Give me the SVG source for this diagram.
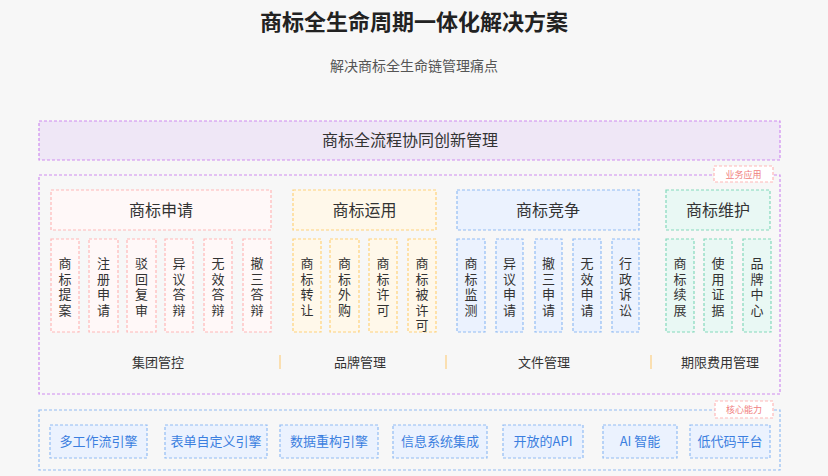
<svg xmlns="http://www.w3.org/2000/svg" width="828" height="476" viewBox="0 0 828 476">
<style>
text{font-family:"Noto Sans CJK SC","Noto Sans",sans-serif;fill:#333}
.d{stroke-dasharray:3 2;stroke-width:1.2}
.pk{fill:#fff8f8;stroke:#ffb8b8}
.yl{fill:#fff8ea;stroke:#ffd27a}
.bl{fill:#ebf2fe;stroke:#92bcf4}
.gr{fill:#e9f8f4;stroke:#84d9bb}
.h{font-size:16px;text-anchor:middle}
.v{font-size:13px;text-anchor:middle}
.c{font-size:13px;text-anchor:middle;fill:#3b7fe0}
.f{font-size:13px;text-anchor:middle}
.tag{font-size:9px;text-anchor:middle;fill:#f08080}
</style>
<rect width="828" height="476" fill="#f7f7f7"/>
<text x="414" y="30" style="font-size:22px;font-weight:bold;text-anchor:middle;fill:#222">商标全生命周期一体化解决方案</text>
<text x="414" y="71" style="font-size:14px;text-anchor:middle;fill:#555">解决商标全生命链管理痛点</text>
<g id="banner"><rect class="d" x="39" y="121" width="741" height="39" fill="#efe7f6" stroke="#cf8cf0"/><text x="410" y="146" style="font-size:16px;text-anchor:middle">商标全流程协同创新管理</text></g>
<g id="business">
<rect class="d" x="39" y="175" width="741" height="219" fill="none" stroke="#cf8cf0"/>
<rect class="d" x="714" y="166" width="59" height="16" fill="#fff" stroke="#ffb8b8"/><text class="tag" x="743.5" y="177.5">业务应用</text>
</g>
<g id="apply">
<rect class="d pk" x="51" y="190" width="220" height="40"/><text class="h" x="161" y="216">商标申请</text>
<rect class="d pk" x="51" y="239" width="28" height="93"/><text class="v" x="65" y="268"><tspan x="65">商</tspan><tspan x="65" dy="15.5">标</tspan><tspan x="65" dy="15.5">提</tspan><tspan x="65" dy="15.5">案</tspan></text>
<rect class="d pk" x="89" y="239" width="29" height="93"/><text class="v" x="103.5" y="268"><tspan x="103.5">注</tspan><tspan x="103.5" dy="15.5">册</tspan><tspan x="103.5" dy="15.5">申</tspan><tspan x="103.5" dy="15.5">请</tspan></text>
<rect class="d pk" x="127" y="239" width="29" height="93"/><text class="v" x="141.5" y="268"><tspan x="141.5">驳</tspan><tspan x="141.5" dy="15.5">回</tspan><tspan x="141.5" dy="15.5">复</tspan><tspan x="141.5" dy="15.5">审</tspan></text>
<rect class="d pk" x="165" y="239" width="28" height="93"/><text class="v" x="179" y="268"><tspan x="179">异</tspan><tspan x="179" dy="15.5">议</tspan><tspan x="179" dy="15.5">答</tspan><tspan x="179" dy="15.5">辩</tspan></text>
<rect class="d pk" x="204" y="239" width="28" height="93"/><text class="v" x="218" y="268"><tspan x="218">无</tspan><tspan x="218" dy="15.5">效</tspan><tspan x="218" dy="15.5">答</tspan><tspan x="218" dy="15.5">辩</tspan></text>
<rect class="d pk" x="243" y="239" width="28" height="93"/><text class="v" x="257" y="268"><tspan x="257">撤</tspan><tspan x="257" dy="15.5">三</tspan><tspan x="257" dy="15.5">答</tspan><tspan x="257" dy="15.5">辩</tspan></text>
</g>
<g id="use">
<rect class="d yl" x="293" y="190" width="143" height="40"/><text class="h" x="364.5" y="216">商标运用</text>
<rect class="d yl" x="293" y="239" width="28" height="93"/><text class="v" x="307" y="268"><tspan x="307">商</tspan><tspan x="307" dy="15.5">标</tspan><tspan x="307" dy="15.5">转</tspan><tspan x="307" dy="15.5">让</tspan></text>
<rect class="d yl" x="330" y="239" width="29" height="93"/><text class="v" x="344.5" y="268"><tspan x="344.5">商</tspan><tspan x="344.5" dy="15.5">标</tspan><tspan x="344.5" dy="15.5">外</tspan><tspan x="344.5" dy="15.5">购</tspan></text>
<rect class="d yl" x="369" y="239" width="28" height="93"/><text class="v" x="383" y="268"><tspan x="383">商</tspan><tspan x="383" dy="15.5">标</tspan><tspan x="383" dy="15.5">许</tspan><tspan x="383" dy="15.5">可</tspan></text>
<rect class="d yl" x="408" y="239" width="28" height="93"/><text class="v" x="422" y="268"><tspan x="422">商</tspan><tspan x="422" dy="15.5">标</tspan><tspan x="422" dy="15.5">被</tspan><tspan x="422" dy="15.5">许</tspan><tspan x="422" dy="15.5">可</tspan></text>
</g>
<g id="compete">
<rect class="d bl" x="457" y="190" width="182" height="40"/><text class="h" x="548" y="216">商标竞争</text>
<rect class="d bl" x="457" y="239" width="28" height="93"/><text class="v" x="471" y="268"><tspan x="471">商</tspan><tspan x="471" dy="15.5">标</tspan><tspan x="471" dy="15.5">监</tspan><tspan x="471" dy="15.5">测</tspan></text>
<rect class="d bl" x="496" y="239" width="27" height="93"/><text class="v" x="509.5" y="268"><tspan x="509.5">异</tspan><tspan x="509.5" dy="15.5">议</tspan><tspan x="509.5" dy="15.5">申</tspan><tspan x="509.5" dy="15.5">请</tspan></text>
<rect class="d bl" x="535" y="239" width="27" height="93"/><text class="v" x="548.5" y="268"><tspan x="548.5">撤</tspan><tspan x="548.5" dy="15.5">三</tspan><tspan x="548.5" dy="15.5">申</tspan><tspan x="548.5" dy="15.5">请</tspan></text>
<rect class="d bl" x="573" y="239" width="28" height="93"/><text class="v" x="587" y="268"><tspan x="587">无</tspan><tspan x="587" dy="15.5">效</tspan><tspan x="587" dy="15.5">申</tspan><tspan x="587" dy="15.5">请</tspan></text>
<rect class="d bl" x="612" y="239" width="27" height="93"/><text class="v" x="625.5" y="268"><tspan x="625.5">行</tspan><tspan x="625.5" dy="15.5">政</tspan><tspan x="625.5" dy="15.5">诉</tspan><tspan x="625.5" dy="15.5">讼</tspan></text>
</g>
<g id="maintain">
<rect class="d gr" x="666" y="190" width="104" height="40"/><text class="h" x="718" y="216">商标维护</text>
<rect class="d gr" x="666" y="239" width="28" height="93"/><text class="v" x="680" y="268"><tspan x="680">商</tspan><tspan x="680" dy="15.5">标</tspan><tspan x="680" dy="15.5">续</tspan><tspan x="680" dy="15.5">展</tspan></text>
<rect class="d gr" x="704" y="239" width="28" height="93"/><text class="v" x="718" y="268"><tspan x="718">使</tspan><tspan x="718" dy="15.5">用</tspan><tspan x="718" dy="15.5">证</tspan><tspan x="718" dy="15.5">据</tspan></text>
<rect class="d gr" x="743" y="239" width="28" height="93"/><text class="v" x="757" y="268"><tspan x="757">品</tspan><tspan x="757" dy="15.5">牌</tspan><tspan x="757" dy="15.5">中</tspan><tspan x="757" dy="15.5">心</tspan></text>
</g>
<g id="functions">
<text class="f" x="158" y="367">集团管控</text>
<text class="f" x="360" y="367">品牌管理</text>
<text class="f" x="544" y="367">文件管理</text>
<text class="f" x="720" y="367">期限费用管理</text>
<g stroke="#fbd79a" stroke-width="1.5"><line x1="280" y1="355" x2="280" y2="369"/><line x1="446" y1="355" x2="446" y2="369"/><line x1="651" y1="355" x2="651" y2="369"/></g>
</g>
<g id="core">
<rect class="d" x="39" y="410" width="741" height="60" fill="none" stroke="#92bcf4"/>
<rect class="d" x="715" y="401" width="58" height="17" fill="#fff" stroke="#ffb8b8"/><text class="tag" x="744" y="413">核心能力</text>
<rect class="d bl" x="50" y="425" width="97" height="33"/><text class="c" x="98.5" y="446">多工作流引擎</text>
<rect class="d bl" x="165" y="425" width="102" height="33"/><text class="c" x="216" y="446">表单自定义引擎</text>
<rect class="d bl" x="280" y="425" width="98" height="33"/><text class="c" x="329" y="446">数据重构引擎</text>
<rect class="d bl" x="393" y="425" width="94" height="33"/><text class="c" x="440" y="446">信息系统集成</text>
<rect class="d bl" x="503" y="425" width="80" height="33"/><text class="c" x="543" y="446">开放的API</text>
<rect class="d bl" x="603" y="425" width="74" height="33"/><text class="c" x="640" y="446">AI 智能</text>
<rect class="d bl" x="690" y="425" width="80" height="33"/><text class="c" x="730" y="446">低代码平台</text>
</g>
<g id="connectors"/>
</svg>
